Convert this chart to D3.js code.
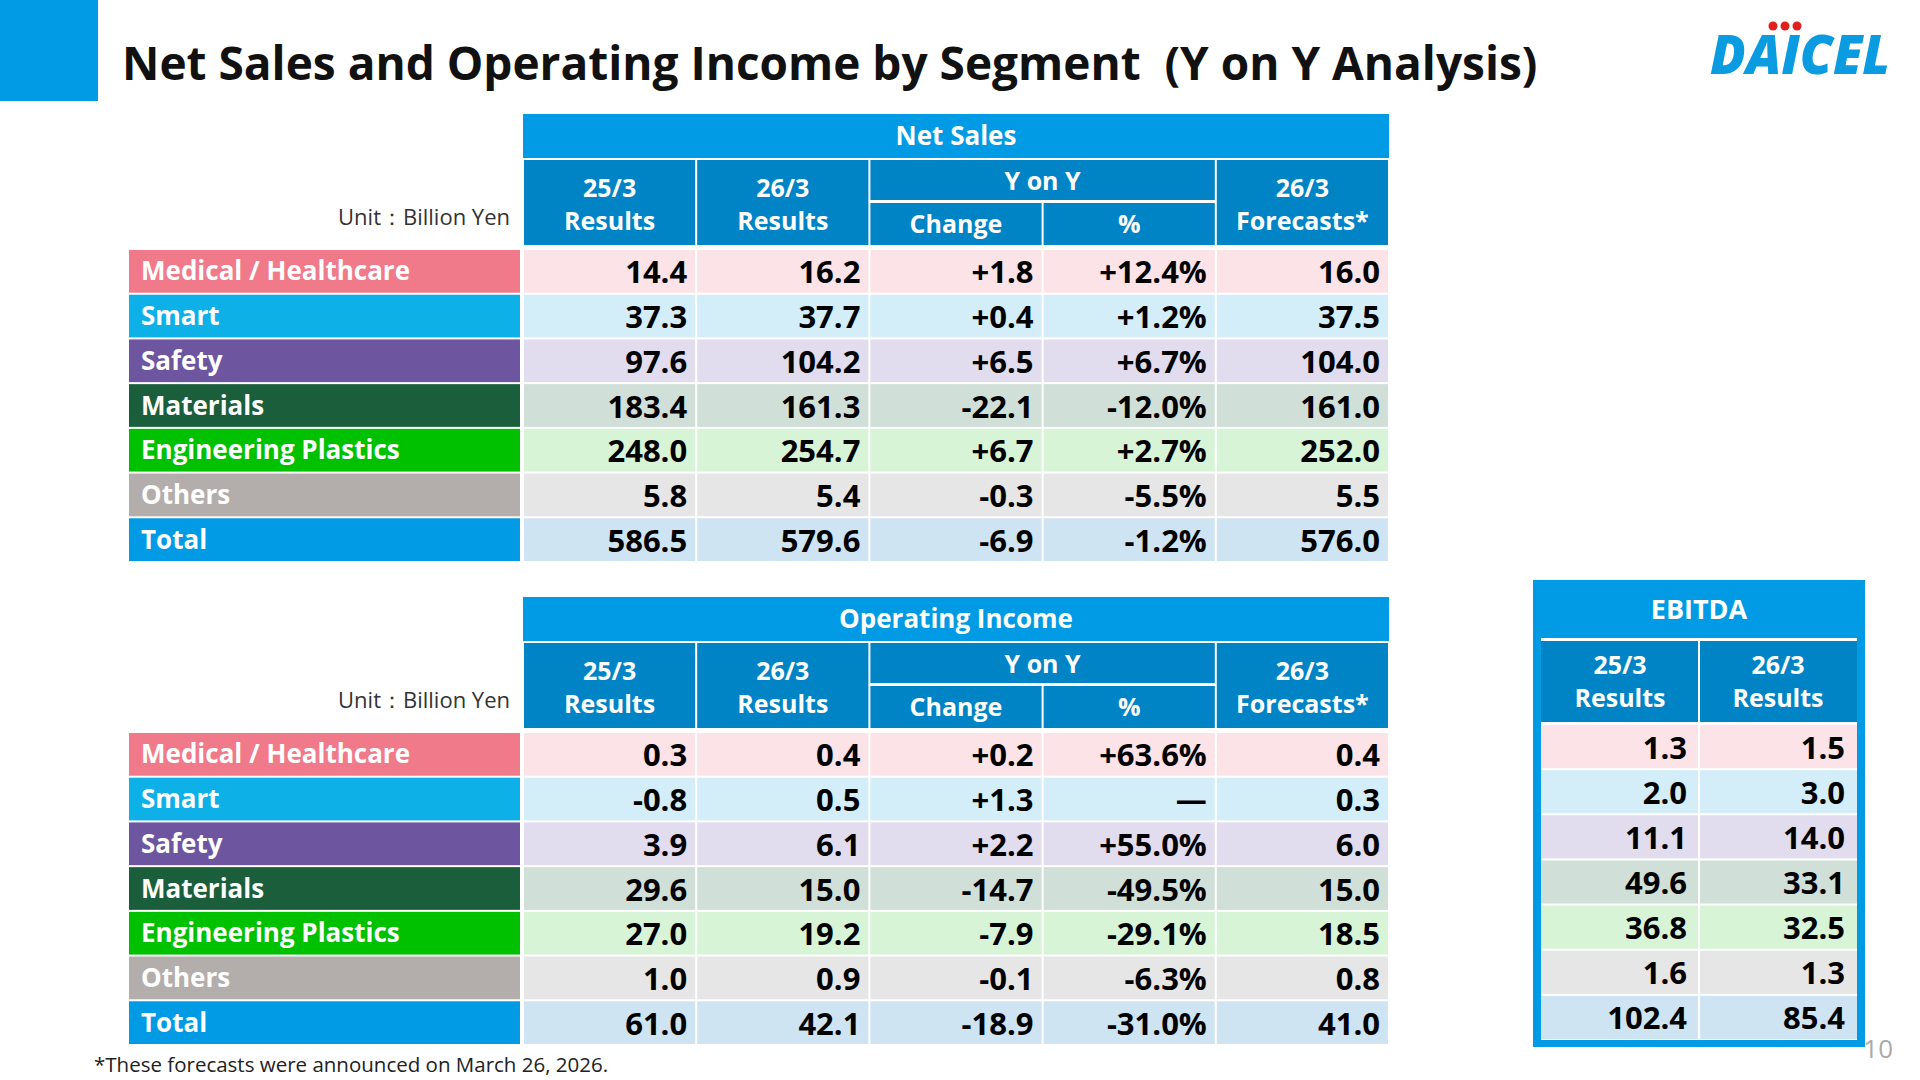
<!DOCTYPE html>
<html><head><meta charset="utf-8">
<script src="https://cdn.jsdelivr.net/npm/d3@7"></script>
<style>body{margin:0;background:#fff}svg{display:block}text{font-family:"Open Sans","Noto Sans",sans-serif;white-space:pre}</style>
</head><body><svg id="c" width="1920" height="1080"></svg>
<script>
const segments = ["Medical / Healthcare","Smart","Safety","Materials","Engineering Plastics","Others","Total"];
const segColors = ["#f07a8a","#0eb0e8","#6e55a0","#1a5e3c","#00c100","#b3aeab","#009be4"];
const rowTints = ["#fce3e7","#d3eef9","#e1dcee","#d0dfd7","#d7f4d7","#e6e6e6","#cfe4f2"];
const salesColumns = ["25/3 Results","26/3 Results","Change","%","26/3 Forecasts*"];
const sales2503 = ["14.4","37.3","97.6","183.4","248.0","5.8","586.5"];
const sales2603 = ["16.2","37.7","104.2","161.3","254.7","5.4","579.6"];
const salesChange = ["+1.8","+0.4","+6.5","-22.1","+6.7","-0.3","-6.9"];
const salesPct = ["+12.4%","+1.2%","+6.7%","-12.0%","+2.7%","-5.5%","-1.2%"];
const salesFcst = ["16.0","37.5","104.0","161.0","252.0","5.5","576.0"];
const oi2503 = ["0.3","-0.8","3.9","29.6","27.0","1.0","61.0"];
const oi2603 = ["0.4","0.5","6.1","15.0","19.2","0.9","42.1"];
const oiChange = ["+0.2","+1.3","+2.2","-14.7","-7.9","-0.1","-18.9"];
const oiPct = ["+63.6%","—","+55.0%","-49.5%","-29.1%","-6.3%","-31.0%"];
const oiFcst = ["0.4","0.3","6.0","15.0","18.5","0.8","41.0"];
const ebitda2503 = ["1.3","2.0","11.1","49.6","36.8","1.6","102.4"];
const ebitda2603 = ["1.5","3.0","14.0","33.1","32.5","1.3","85.4"];

const svg = d3.select("#c");
const HDR="#009be4", HDR2="#0084c6";
svg.append("rect").attr("x",0).attr("y",0).attr("width",98).attr("height",101).attr("fill",HDR);
svg.append("text").attr("x",122).attr("y",80).attr("font-size",46).attr("font-weight",700).attr("fill","#111")
  .text("Net Sales and Operating Income by Segment  (Y on Y Analysis)");
svg.append("text").attr("x",1890).attr("y",74).attr("text-anchor","end").attr("font-size",54).attr("font-weight",800)
  .attr("font-style","italic").attr("fill","#0a9be0").attr("textLength",180).attr("lengthAdjust","spacingAndGlyphs").text("DAICEL");
[0,1,2].forEach(i=>svg.append("circle").attr("cx",1773+i*12).attr("cy",26).attr("r",4.5).attr("fill","#e0201c"));
svg.append("text").attr("x",94).attr("y",1072).attr("font-size",20.5).attr("fill","#222").text("*These forecasts were announced on March 26, 2026.");
svg.append("text").attr("x",1893).attr("y",1058).attr("text-anchor","end").attr("font-size",26).attr("fill","#aaa").text("10");

function table(top, title, cols){
  const x = d3.scaleBand().domain(d3.range(5)).range([523,1389]);
  const labelX0=129, labelX1=520;
  const y = d3.scaleBand().domain(d3.range(7)).range([top+135, top+448]);
  const g = svg.append("g");
  g.append("rect").attr("x",523).attr("y",top).attr("width",866).attr("height",44).attr("fill",HDR);
  g.append("text").attr("x",956).attr("y",top+31).attr("text-anchor","middle").attr("font-size",26).attr("font-weight",700).attr("fill","#fff").text(title);
  const h0=top+46, h1=top+131, hm=top+87;
  [0,1,4].forEach(i=>{
    g.append("rect").attr("x",x(i)+1).attr("y",h0).attr("width",x.bandwidth()-2).attr("height",h1-h0).attr("fill",HDR2);
    const parts = salesColumns[i].split(" ");
    parts.forEach((p,k)=>g.append("text").attr("x",x(i)+x.bandwidth()/2).attr("y",h0+37+k*33).attr("text-anchor","middle")
      .attr("font-size",25).attr("font-weight",700).attr("fill","#fff").text(p));
  });
  g.append("rect").attr("x",x(2)+1).attr("y",h0).attr("width",2*x.bandwidth()-2).attr("height",hm-h0-1).attr("fill",HDR2);
  g.append("text").attr("x",x(3)).attr("y",h0+30).attr("text-anchor","middle").attr("font-size",25).attr("font-weight",700).attr("fill","#fff").text("Y on Y");
  [2,3].forEach(i=>{
    g.append("rect").attr("x",x(i)+1).attr("y",hm+2).attr("width",x.bandwidth()-2).attr("height",h1-hm-2).attr("fill",HDR2);
    g.append("text").attr("x",x(i)+x.bandwidth()/2).attr("y",hm+32).attr("text-anchor","middle").attr("font-size",25).attr("font-weight",700).attr("fill","#fff").text(salesColumns[i]);
  });
  g.append("text").attr("x",510).attr("y",h0+65).attr("text-anchor","end").attr("font-size",22).attr("fill","#333").text("Unit：Billion Yen");
  segments.forEach((s,r)=>{
    g.append("rect").attr("x",labelX0).attr("y",y(r)+1).attr("width",labelX1-labelX0).attr("height",y.bandwidth()-2).attr("fill",segColors[r]);
    g.append("text").attr("x",labelX0+12).attr("y",y(r)+y.bandwidth()/2+9).attr("font-size",26).attr("font-weight",700).attr("fill","#fff").text(s);
    cols.forEach((arr,i)=>{
      g.append("rect").attr("x",x(i)+1).attr("y",y(r)+1).attr("width",x.bandwidth()-2).attr("height",y.bandwidth()-2).attr("fill",rowTints[r]);
      g.append("text").attr("x",x(i)+x.bandwidth()-9).attr("y",y(r)+y.bandwidth()/2+12).attr("text-anchor","end")
        .attr("font-size",31).attr("font-weight",700).attr("fill","#000").text(arr[r]);
    });
  });
}
table(114,"Net Sales",[sales2503,sales2603,salesChange,salesPct,salesFcst]);
table(597,"Operating Income",[oi2503,oi2603,oiChange,oiPct,oiFcst]);

(function(){
  const g=svg.append("g");
  g.append("rect").attr("x",1533).attr("y",580).attr("width",332).attr("height",467).attr("fill",HDR);
  g.append("text").attr("x",1699).attr("y",619).attr("text-anchor","middle").attr("font-size",27).attr("font-weight",700).attr("fill","#fff").text("EBITDA");
  g.append("rect").attr("x",1541).attr("y",638).attr("width",316).attr("height",3).attr("fill","#fff");
  const x=d3.scaleBand().domain([0,1]).range([1541,1857]);
  const y=d3.scaleBand().domain(d3.range(7)).range([724,1040]);
  g.append("rect").attr("x",1541).attr("y",641).attr("width",316).attr("height",399).attr("fill","#fff");
  [0,1].forEach(i=>{
    g.append("rect").attr("x",x(i)+(i?1:0)).attr("y",641).attr("width",x.bandwidth()-1).attr("height",81).attr("fill",HDR2);
    salesColumns[i].split(" ").forEach((p,k)=>g.append("text").attr("x",x(i)+x.bandwidth()/2).attr("y",674+k*33).attr("text-anchor","middle")
      .attr("font-size",25).attr("font-weight",700).attr("fill","#fff").text(p));
  });
  [ebitda2503,ebitda2603].forEach((arr,i)=>segments.forEach((s,r)=>{
    g.append("rect").attr("x",x(i)+(i?1:0)).attr("y",y(r)+1).attr("width",x.bandwidth()-1).attr("height",y.bandwidth()-2).attr("fill",rowTints[r]);
    g.append("text").attr("x",x(i)+x.bandwidth()-12).attr("y",y(r)+y.bandwidth()/2+12).attr("text-anchor","end")
      .attr("font-size",31).attr("font-weight",700).attr("fill","#000").text(arr[r]);
  }));
})();
</script></body></html>
